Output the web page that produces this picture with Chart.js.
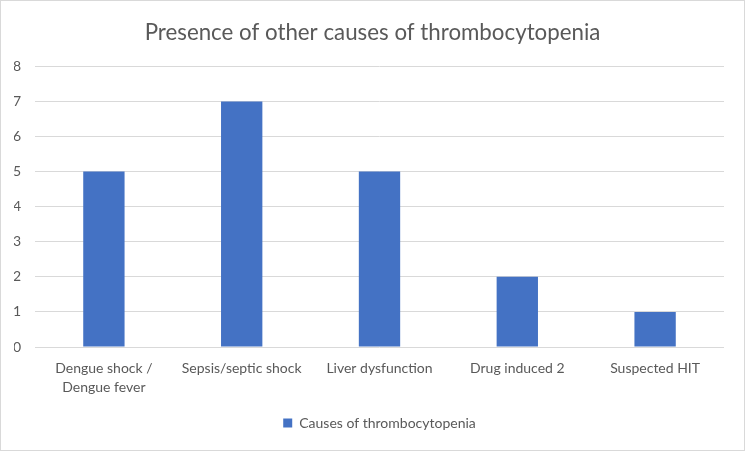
<!DOCTYPE html>
<html>
<head>
<meta charset="utf-8">
<script src="https://cdn.jsdelivr.net/npm/chart.js@4"></script>
<style>
  html, body { margin: 0; padding: 0; background: #fff; }
  #wrap { position: absolute; left: 0; top: 0; width: 743px; height: 449px; border: 1px solid #d9d9d9; }
</style>
</head>
<body>
<div id="wrap"><canvas id="myChart" width="743" height="449"></canvas></div>
<script>
var categories = [["Dengue shock /", "Dengue fever"], "Sepsis/septic shock", "Liver dysfunction", "Drug induced 2", "Suspected HIT"];
var causes = [5, 7, 5, 2, 1];
var seriesLabel = "Causes of thrombocytopenia";
var chartTitle = "Presence of other causes of thrombocytopenia";

var fontFamily = "Lato, 'Open Sans', sans-serif";
var textColor = "#595959";

var ctx = document.getElementById("myChart");
new Chart(ctx, {
  type: "bar",
  data: {
    labels: categories,
    datasets: [
      {
        data: causes,
        label: seriesLabel,
        backgroundColor: "#4472c4",
        categoryPercentage: 1,
        barPercentage: 0.3
      }
    ]
  },
  options: {
    responsive: false,
    animation: false,
    layout: { padding: { left: 13, right: 13, top: 0, bottom: 10 } },
    plugins: {
      title: {
        display: true,
        text: chartTitle,
        color: textColor,
        font: { family: fontFamily, size: 22.3, weight: "normal" },
        padding: { top: 18, bottom: 20.6 }
      },
      legend: {
        position: "bottom",
        fullSize: false,
        labels: {
          color: textColor,
          font: { family: fontFamily, size: 14 },
          boxWidth: 9,
          boxHeight: 9,
          padding: 6
        }
      },
      tooltip: { enabled: false }
    },
    scales: {
      x: {
        grid: { display: false },
        border: { display: false },
        ticks: {
          color: textColor,
          font: { family: fontFamily, size: 14, lineHeight: 1.36 },
          maxRotation: 0,
          padding: 4
        },
        afterFit: function(scale) { scale.height = 63; }
      },
      y: {
        min: 0,
        max: 8,
        ticks: {
          stepSize: 1,
          color: textColor,
          font: { family: fontFamily, size: 14 },
          padding: 14
        },
        grid: { color: "#d9d9d9", drawTicks: false },
        border: { display: false },
        afterFit: function(scale) { scale.width = 21; }
      },
      yRight: {
        position: "right",
        grid: { display: false, drawTicks: false },
        border: { display: false },
        ticks: { display: false },
        afterFit: function(scale) { scale.width = 7; }
      }
    }
  }
});
</script>
</body>
</html>
